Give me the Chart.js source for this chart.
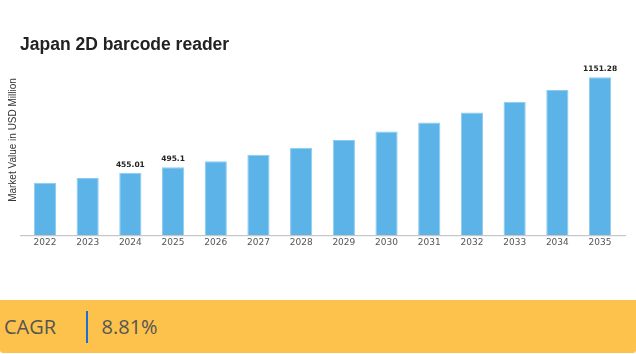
<!doctype html>
<html lang="en">
  <head>
    <meta charset="utf-8">
    <title>Japan 2D barcode reader</title>
    <style>
      * { margin: 0; padding: 0; }
      body { width: 636px; height: 354px; background: #fff; overflow: hidden; }
      .chartBox { width: 636px; height: 300px; position: relative; }
      .band {
        height: 53px;
        background: #fdc24b;
        border-radius: 0 0 3px 3px;
        display: flex;
        align-items: center;
        font-family: "Open Sans", sans-serif;
        font-size: 20px;
        color: #555;
      }
      .band .lbl { padding-left: 4px; width: 82px; }
      .band .sep { width: 1.5px; height: 32px; background: #1a6fd0; margin-right: 14px; }
    </style>
  </head>
  <body>
    <div class="chartBox"><canvas id="myChart"></canvas></div>
    <div class="band"><span class="lbl">CAGR</span><span class="sep"></span><span>8.81%</span></div>

    <script src="https://cdn.jsdelivr.net/npm/chart.js/dist/chart.umd.min.js"></script>
    <script>
    // setup
    const years = ['2022', '2023', '2024', '2025', '2026', '2027', '2028', '2029', '2030', '2031', '2032', '2033', '2034', '2035'];
    const values = [383, 417, 455.01, 495.1, 538, 586, 637, 694, 755, 822, 894, 972, 1058, 1151.28];
    const labelled = ['2024', '2025', '2035'];
    const chartTitle = 'Japan 2D barcode reader';
    const yTitle = 'Market Value in USD Million';

    const extras = {
      id: 'extras',
      afterDraw(chart) {
        const c = chart.ctx;
        const area = chart.chartArea;
        c.save();
        // title
        c.fillStyle = '#222';
        c.font = 'bold 17.5px "Liberation Sans", Arial, sans-serif';
        c.textBaseline = 'middle';
        c.textAlign = 'left';
        c.fillText(chartTitle, 20, 45);
        // y axis title
        c.translate(13, 140);
        c.rotate(-Math.PI / 2);
        c.textAlign = 'center';
        c.fillStyle = '#333';
        c.font = '10px "Liberation Sans", Arial, sans-serif';
        c.fillText(yTitle, 0, 0);
        c.restore();
        // axis line
        c.save();
        c.strokeStyle = '#bbb';
        c.lineWidth = 1;
        c.beginPath();
        c.moveTo(20, area.bottom + 0.5);
        c.lineTo(626, area.bottom + 0.5);
        c.stroke();
        // value labels
        const meta = chart.getDatasetMeta(0);
        c.fillStyle = '#222';
        c.font = 'bold 7.5px "DejaVu Sans", sans-serif';
        c.textAlign = 'center';
        c.textBaseline = 'bottom';
        meta.data.forEach((bar, i) => {
          if (labelled.includes(years[i])) {
            c.fillText(String(values[i]), bar.x, bar.y - 4);
          }
        });
        c.restore();
      }
    };

    const config = {
      type: 'bar',
      data: {
        labels: years,
        datasets: [{
          data: values,
          backgroundColor: '#5cb3e7',
          borderColor: '#8ccbf0',
          borderWidth: 1,
          barPercentage: 0.52,
          categoryPercentage: 1
        }]
      },
      options: {
        responsive: true,
        maintainAspectRatio: false,
        animation: false,
        layout: { padding: { left: 23.6, right: 14.6, top: 62, bottom: 50 } },
        plugins: { legend: { display: false }, tooltip: { enabled: false } },
        scales: {
          x: {
            grid: { display: false, drawTicks: false },
            border: { display: false },
            ticks: { color: '#555', padding: 2, font: { family: '"DejaVu Sans", sans-serif', size: 9 } }
          },
          y: { display: false, beginAtZero: true, min: 0, max: 1262 }
        }
      },
      plugins: [extras]
    };

    const myChart = new Chart(document.getElementById('myChart'), config);
    </script>
  </body>
</html>
